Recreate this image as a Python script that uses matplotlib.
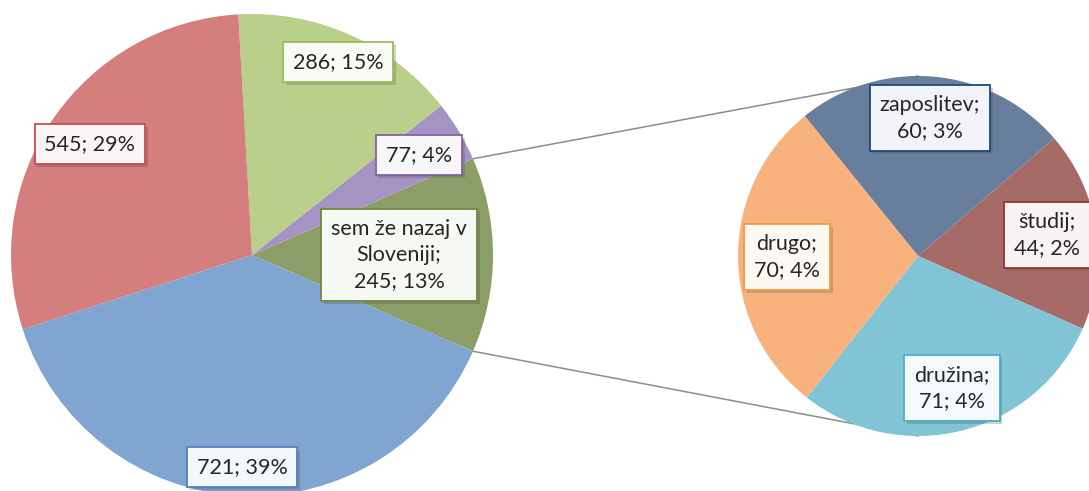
import matplotlib
matplotlib.use('Agg')
import matplotlib.pyplot as plt
import matplotlib.patheffects as pe
import numpy as np

plt.rcParams['font.family'] = ['Lato', 'DejaVu Sans']

# main pie (first slice is the one split into the secondary pie)
main_labels = ['sem že nazaj v\nSloveniji', '', '', '', '']
main_values = [245, 77, 286, 545, 721]
main_colors = ['#8C9E68', '#A593C4', '#BACF8A', '#D47E7D', '#7FA5D0']
main_edges = ['#6E8A3A', '#8064A2', '#9BBB59', '#C0504D', '#4F81BD']

# secondary pie
sub_labels = ['zaposlitev', 'študij', 'družina', 'drugo']
sub_values = [60, 44, 71, 70]
sub_colors = ['#677F9C', '#A66A67', '#80C4D6', '#F7B27D']
sub_edges = ['#1F497D', '#943634', '#4BACC6', '#F79646']

W, H = 1089, 491
total = sum(main_values)


def pcts(vals):
    # percentages rounded so they add up to 100 (like excel does)
    raw = np.array(vals) / total * 100
    out = np.floor(raw).astype(int)
    rest = 100 - out.sum()
    for i in np.argsort(-(raw - out))[:rest]:
        out[i] += 1
    return out


fig = plt.figure(figsize=(W / 100, H / 100), dpi=100)
ax = fig.add_axes([0, 0, 1, 1])

# pixel layout (y measured from top)
c1 = (252, H - 255)
r1 = 241
c2 = (918, H - 256)
r2 = 180

start1 = -main_values[0] / total * 360 / 2
ax.pie(main_values, colors=main_colors, center=c1, radius=r1,
       startangle=start1, counterclock=True,
       wedgeprops=dict(linewidth=0), frame=True)
ax.pie(sub_values, colors=sub_colors, center=c2, radius=r2,
       startangle=129, counterclock=False,
       wedgeprops=dict(linewidth=0), frame=True)

# connector lines
a = np.deg2rad(start1)
for sgn in (1, -1):
    x0 = c1[0] + r1 * np.cos(a)
    y0 = c1[1] - sgn * r1 * np.sin(a)
    ax.plot([x0, c2[0]], [y0, c2[1] + sgn * r2], color='#8C8C8C', lw=1.1, zorder=0)


def mix(c, f=0.06):
    rgb = np.array(matplotlib.colors.to_rgb(c))
    return tuple(1 - f + f * rgb)


def label(x, y, txt, edge):
    t = ax.text(x, H - y, txt, ha='center', va='center', fontsize=15.5,
                color='#262626', linespacing=1.4, zorder=5,
                bbox=dict(boxstyle='square,pad=0.46', fc=mix(edge), ec=edge, lw=1.3))
    t.get_bbox_patch().set_path_effects([
        pe.SimplePatchShadow(offset=(2, -2), alpha=0.25), pe.Normal()])
    return t


pos_main = [(399, 255), (419, 155), (338, 62), (90, 144), (242, 467)]
for lab, v, pct, edge, p in zip(main_labels, main_values, pcts(main_values), main_edges, pos_main):
    txt = f'{v}; {pct}%' if not lab else f'{lab};\n{v}; {pct}%'
    label(p[0], p[1], txt, edge)

pos_sub = [(930, 118), (1047, 235), (952, 388), (787, 257)]
for lab, v, edge, p in zip(sub_labels, sub_values, sub_edges, pos_sub):
    pct = round(v / total * 100)
    label(p[0], p[1], f'{lab};\n{v}; {pct}%', edge)

ax.set_xlim(0, W)
ax.set_ylim(0, H)
ax.set_aspect('equal')
ax.axis('off')

fig.savefig('out.png', dpi=100)
